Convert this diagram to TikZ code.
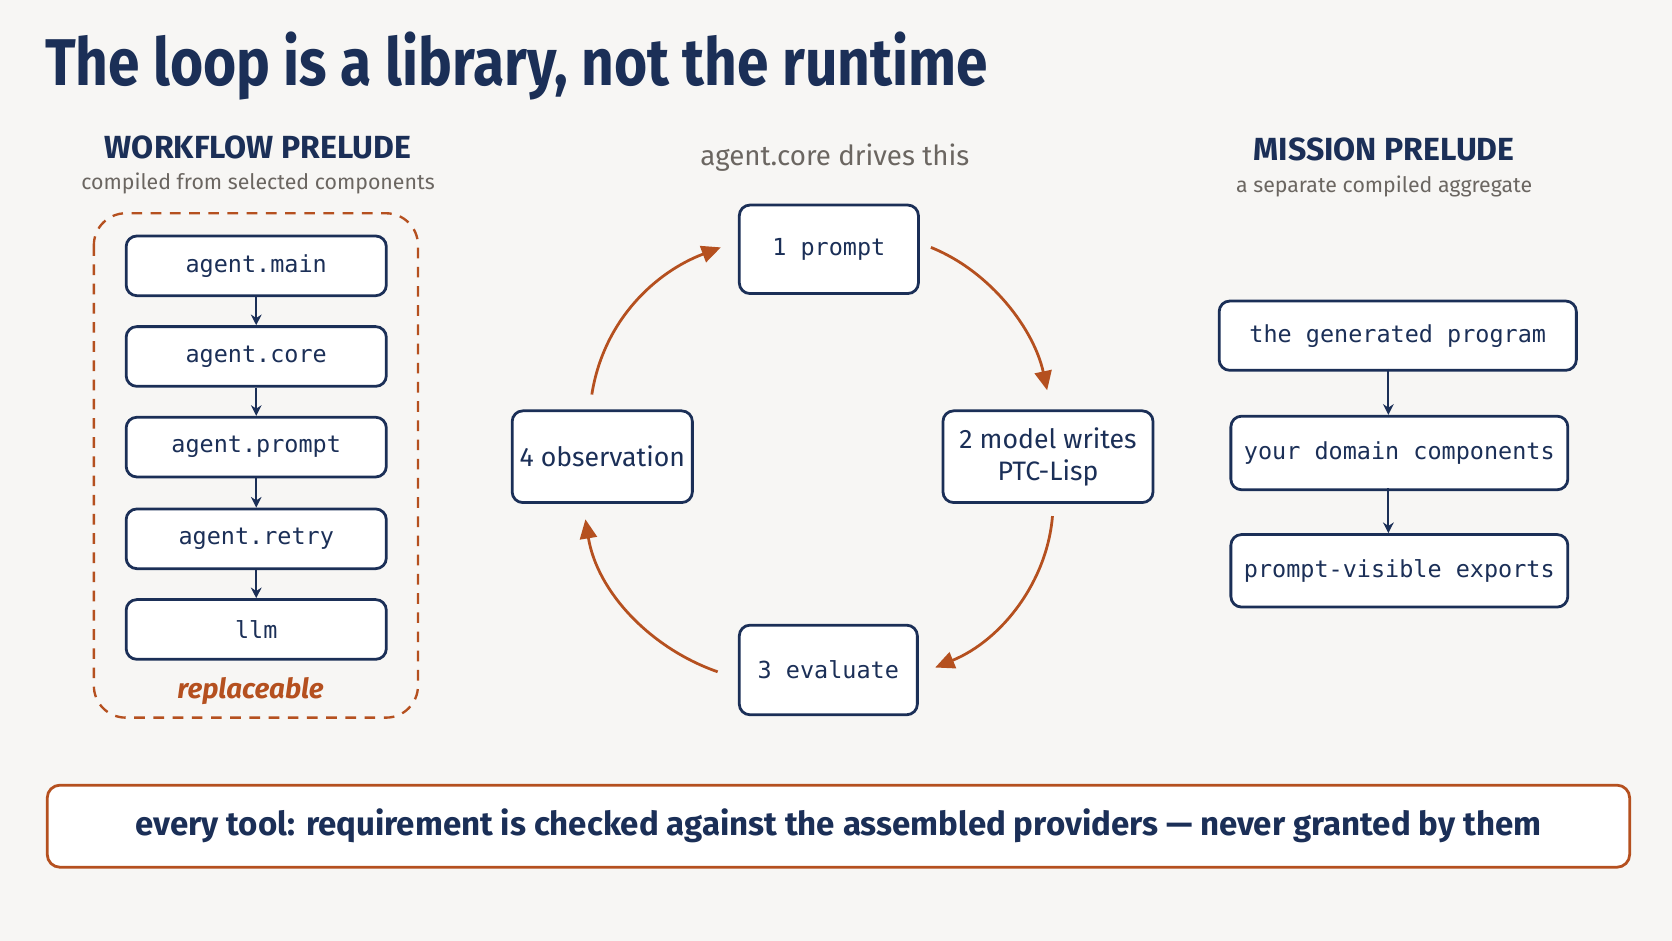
\documentclass[tikz,border=0pt]{standalone}
\usepackage{fontspec}
\setmainfont{Fira Sans}
\setmonofont{DejaVu Sans Mono}
\usetikzlibrary{arrows.meta}
\definecolor{navy}{HTML}{1B2F57}
\definecolor{org}{HTML}{B5501F}
\definecolor{gr}{HTML}{6B6661}
\definecolor{bg}{HTML}{F7F6F4}
\begin{document}
\begin{tikzpicture}[x=0.5pt,y=-0.5pt,
 box/.style={draw=navy,line width=1.3pt,rounded corners=5pt,fill=white,text=navy,inner sep=0pt,anchor=north west},
 mono/.style={font=\ttfamily\fontsize{11}{13}\selectfont},
 sans/.style={font=\fontsize{12.5}{15}\selectfont},
 narr/.style={draw=navy,line width=1pt,-{Stealth[length=5pt,width=5pt]}},
 oarr/.style={draw=org,line width=1.3pt,-{Triangle[length=9pt,width=8pt]}},
 head/.style={font=\bfseries\fontsize{15}{17}\selectfont,text=navy},
 sub/.style={font=\fontsize{10}{12}\selectfont,text=gr}]
\fill[bg] (0,0) rectangle (1568,882);
\node[anchor=base west,text=navy,font=\bfseries\fontsize{31}{36}\selectfont,xscale=0.86,inner sep=0pt] (title) at (42,80) {The loop is a library, not the runtime};
% left
\node[head] (wh) at (242,138) {WORKFLOW PRELUDE};
\node[sub] (ws) at (242,172) {compiled from selected components};
\draw[org,line width=1.1pt,dash pattern=on 5pt off 4pt,rounded corners=15pt] (88,200) rectangle (392,673);
\node[box,mono,minimum width=122pt,minimum height=28pt] (a1) at (117,220) {agent.main};
\node[box,mono,minimum width=122pt,minimum height=28pt] (a2) at (117,305) {agent.core};
\node[box,mono,minimum width=122pt,minimum height=28pt] (a3) at (117,390) {agent.prompt};
\node[box,mono,minimum width=122pt,minimum height=28pt] (a4) at (117,476) {agent.retry};
\node[box,mono,minimum width=122pt,minimum height=28pt] (a5) at (117,561) {llm};
\foreach \i/\j in {a1/a2,a2/a3,a3/a4,a4/a5} \draw[narr] (\i) -- (\j);
\node[text=org,font=\bfseries\itshape\fontsize{13}{15}\selectfont] (rep) at (235,648) {replaceable};
% center
\node[font=\fontsize{13}{15}\selectfont,text=gr] (cd) at (783,148) {agent.core drives this};
\node[box,mono,minimum width=84pt,minimum height=41.5pt] (p1) at (692,191) {1 prompt};
\node[box,sans,minimum width=98.5pt,minimum height=43pt,align=center] (p2) at (883,384) {2 model writes\\PTC-Lisp};
\node[box,mono,minimum width=83.5pt,minimum height=42pt] (p3) at (692,585) {3 evaluate};
\node[box,sans,minimum width=84.5pt,minimum height=43pt] (p4) at (479,384) {4 observation};
\coordinate (c1) at (873,232); \coordinate (c2) at (982,366);
\coordinate (c3) at (987,484); \coordinate (c4) at (877,626);
\coordinate (c5) at (673,630); \coordinate (c6) at (549,487);
\coordinate (c7) at (555,370); \coordinate (c8) at (676,232);
\draw[oarr] (c1) .. controls (930,255) and (970,310) .. (c2);
\draw[oarr] (c3) .. controls (982,545) and (940,600) .. (c4);
\draw[oarr] (c5) .. controls (610,608) and (560,555) .. (c6);
\draw[oarr] (c7) .. controls (566,300) and (615,255) .. (c8);
% right
\node[head] (mh) at (1298,140) {MISSION PRELUDE};
\node[sub] (ms) at (1298,175) {a separate compiled aggregate};
\node[box,mono,minimum width=167.5pt,minimum height=32.5pt] (b1) at (1142,281) {the generated program};
\node[box,mono,minimum width=158pt,minimum height=34.5pt] (b2) at (1153,389) {your domain components};
\node[box,mono,minimum width=158pt,minimum height=34pt] (b3) at (1153,500) {prompt-visible exports};
\draw[narr] (1302,346) -- (1302,389);
\draw[narr] (1302,458) -- (1302,500);
% bottom
\node[draw=org,line width=1.3pt,rounded corners=6pt,fill=white,anchor=north west,minimum width=742pt,minimum height=38.5pt,inner sep=0pt,text=navy,font=\bfseries\fontsize{15.5}{18}\selectfont] (bot) at (43,735) {every tool: requirement is checked against the assembled providers — never granted by them};
\end{tikzpicture}
\end{document}
